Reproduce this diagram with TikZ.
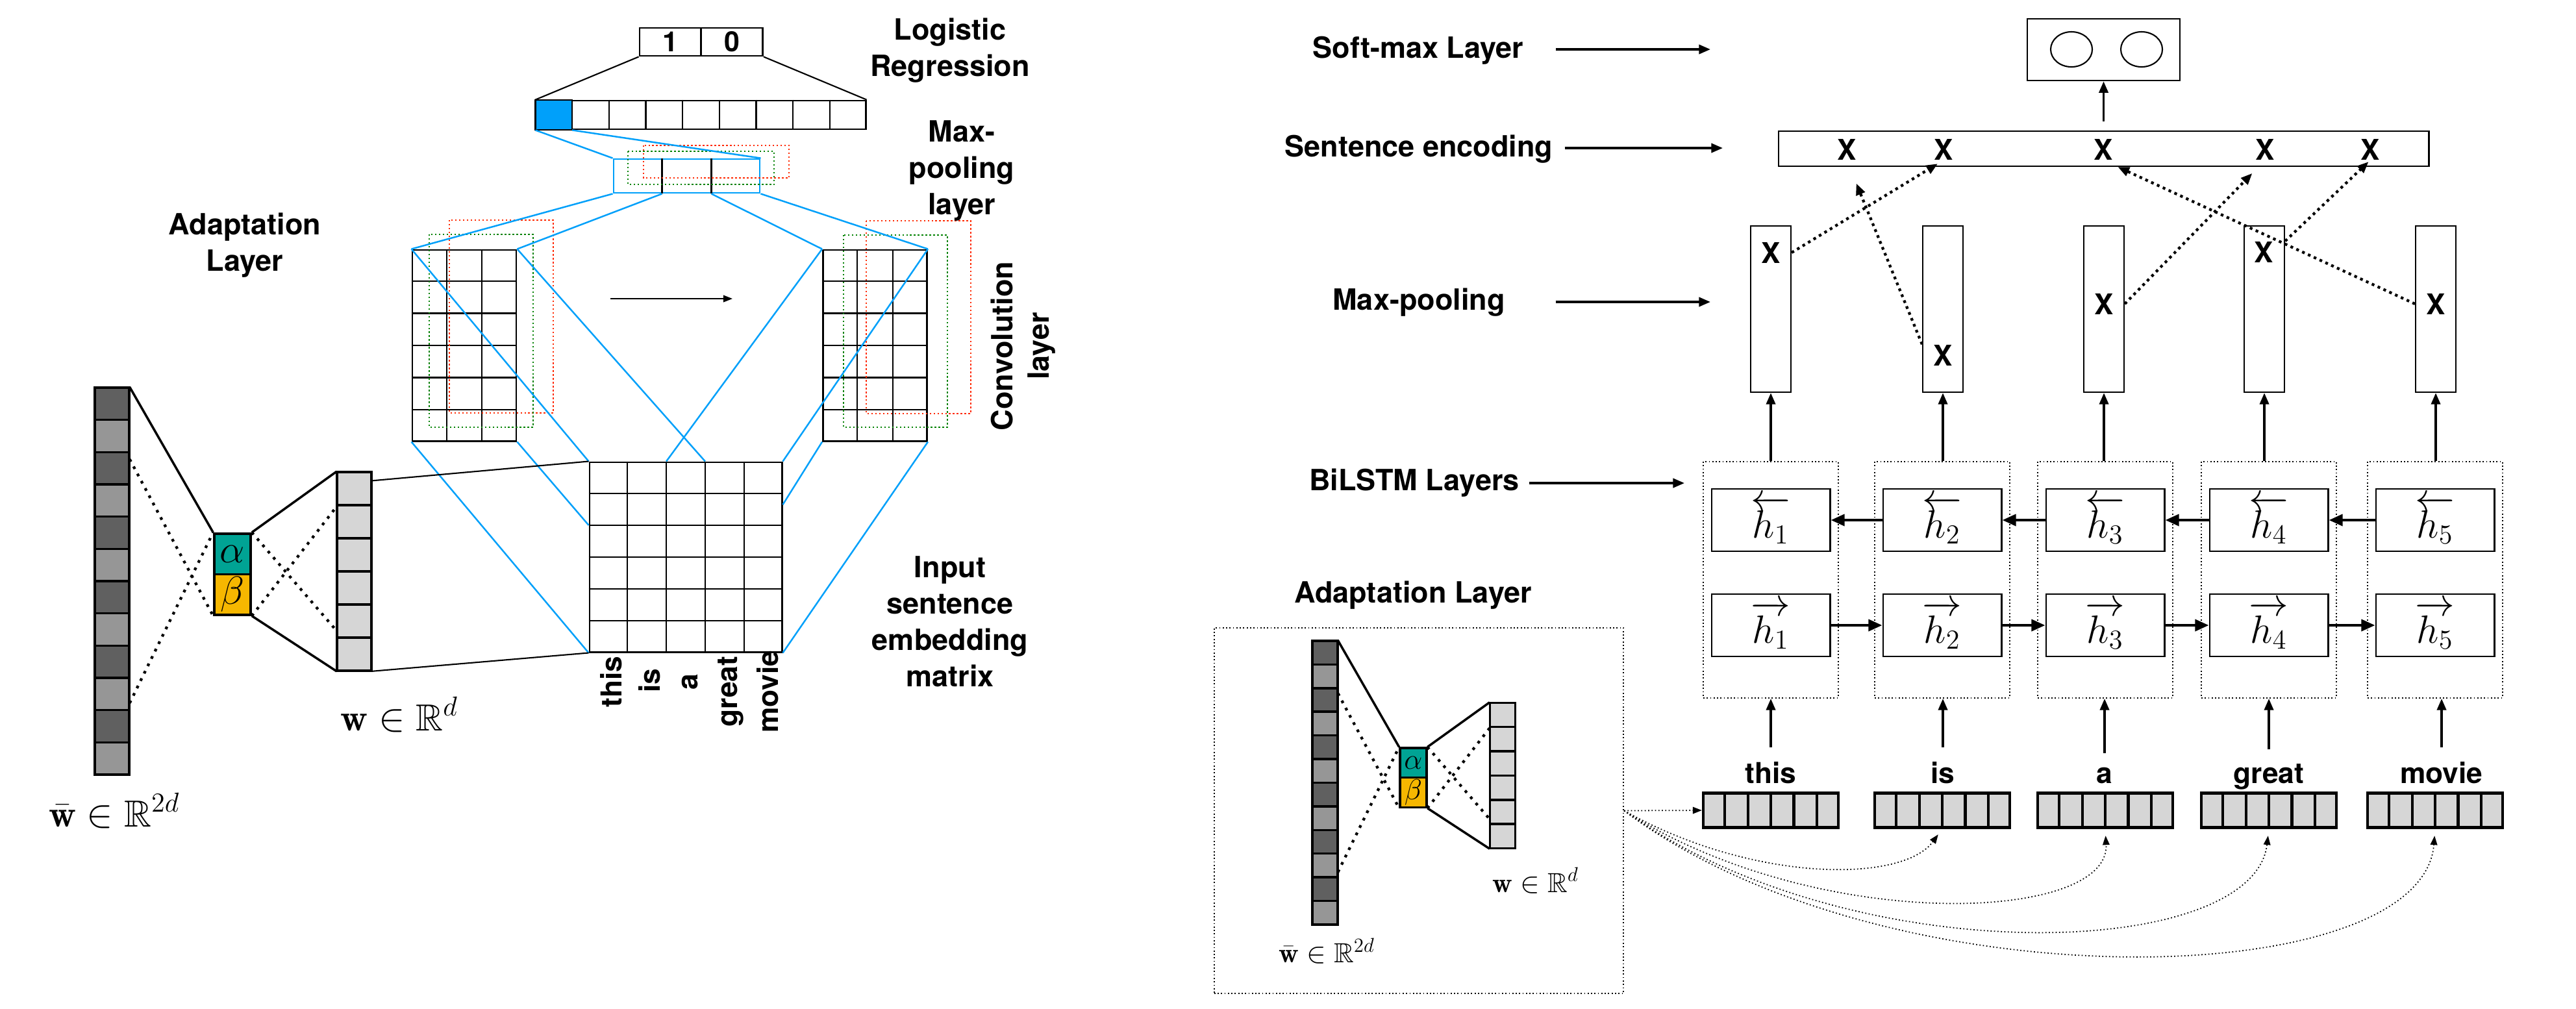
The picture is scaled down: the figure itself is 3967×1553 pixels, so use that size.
\documentclass[tikz,border=0pt]{standalone}
\usepackage{amsmath}
\usepackage{amssymb}
\usepackage{fontspec}
\usepackage{tikz}
\usetikzlibrary{arrows.meta,calc,shapes.geometric}

\newfontfamily\helv{TeX Gyre Heros}

\definecolor{convblue}{RGB}{0,160,250}
\definecolor{filtred}{RGB}{255,40,0}
\definecolor{filtgreen}{RGB}{0,128,0}
\definecolor{alphateal}{RGB}{0,163,148}
\definecolor{betaorange}{RGB}{246,183,0}
\definecolor{celldark}{RGB}{96,96,96}
\definecolor{celllight}{RGB}{150,150,150}
\definecolor{cellpale}{RGB}{214,214,214}

\begin{document}
\begin{tikzpicture}[
  x=0.01cm, y=-0.01cm,
  every node/.style={align=center, inner sep=0pt},
  lbl/.style={font=\helv\bfseries\fontsize{12.8}{15.9}\selectfont},
  wordlbl/.style={font=\helv\bfseries\fontsize{12.6}{16.9}\selectfont},
  xsym/.style={font=\helv\bfseries\fontsize{12.5}{14}\selectfont},
  mathlbl/.style={font=\fontsize{16.5}{20}\selectfont},
  abox/.style={draw, line width=1pt, minimum width=0.56cm, minimum height=0.625cm, font=\fontsize{18}{20}\selectfont},
  cellrule/.style={draw=black, line width=1pt},
  adline/.style={line width=1pt},
  addot/.style={line width=1.2pt, dash pattern=on 1.2pt off 2.4pt},
  gridrule/.style={line width=0.6pt},
  gridbox/.style={draw, line width=0.8pt},
  blueline/.style={convblue, line width=0.7pt},
  filt/.style={densely dotted, line width=0.7pt},
  lstmbox/.style={draw, densely dotted, line width=0.5pt, minimum width=2.08cm, minimum height=3.64cm},
  hcell/.style={draw, line width=0.8pt, minimum width=1.82cm, minimum height=0.96cm, font=\fontsize{17}{20}\selectfont},
  poolcol/.style={draw, line width=0.6pt, minimum width=0.62cm, minimum height=2.56cm},
  vecbox/.style={draw, fill=cellpale, line width=1.2pt, minimum width=2.08cm, minimum height=0.53cm},
  arr/.style={-{Triangle[length=5pt,width=4pt]}, line width=1pt},
  harr/.style={-{Triangle[length=6pt,width=5pt]}, line width=1.3pt},
  dotarr/.style={-{Triangle[length=5pt,width=4pt]}, line width=1.2pt, dash pattern=on 1.2pt off 1.6pt},
  curvearr/.style={-{Triangle[length=4pt,width=3pt]}, line width=0.5pt, densely dotted}
]
\useasboundingbox (0,0) rectangle (3967,1553);

% adaptation layer, large and small copy
\foreach \ox/\oy/\sc/\nm in {146/597/1/big, 2021/987/0.733/small}{
  \begin{scope}[shift={(\ox,\oy)}, scale=\sc, transform shape]
    \foreach \k in {0,...,11}{
      \ifodd\k \def\cellc{celllight}\else\def\cellc{celldark}\fi
      \filldraw[fill=\cellc, cellrule] (0,{\k*49.67}) rectangle ++(53,49.67);
    }
    \node[minimum width=0.53cm, minimum height=5.96cm] (wbar\nm) at (26.5,298) {};
    \foreach \k in {0,...,5}
      \filldraw[fill=cellpale, cellrule] (373,{130+\k*51}) rectangle ++(53,51);
    \node[minimum width=0.53cm, minimum height=3.06cm] (wvec\nm) at (399.5,283) {};
    \node[abox, fill=alphateal] (alpha\nm) at (212,256) {$\alpha$};
    \node[abox, fill=betaorange] (beta\nm) at (212,318.5) {$\beta$};

    \draw[adline] (wbar\nm.north east) -- (alpha\nm.north west);
    \draw[adline] (alpha\nm.north east) -- (wvec\nm.north west);
    \draw[adline] (beta\nm.south east) -- (wvec\nm.south west);
    \draw[addot] ($(wbar\nm.north east)!0.186!(wbar\nm.south east)$) -- (beta\nm.south west);
    \draw[addot] ($(wbar\nm.north east)!0.814!(wbar\nm.south east)$) -- (alpha\nm.north west);
    \draw[addot] (alpha\nm.north east) -- ($(wvec\nm.north west)!0.797!(wvec\nm.south west)$);
    \draw[addot] (beta\nm.south east) -- ($(wvec\nm.north west)!0.176!(wvec\nm.south west)$);

    \node[mathlbl, anchor=base] (wbarlbl\nm) at (30,676) {$\bar{\mathbf{w}}\in\mathbb{R}^{2d}$};
    \node[mathlbl, anchor=base] (wlbl\nm) at (469,528) {$\mathbf{w}\in\mathbb{R}^{d}$};
  \end{scope}
}

% CNN side
\node[gridbox, minimum width=0.95cm, minimum height=0.43cm, font=\helv\bfseries\fontsize{12.2}{14}\selectfont] (out1) at (1032.5,64.5) {1};
\node[gridbox, minimum width=0.95cm, minimum height=0.43cm, font=\helv\bfseries\fontsize{12.2}{14}\selectfont] (out0) at (1127,64.5) {0};
\node[gridbox, minimum width=5.07cm, minimum height=0.44cm] (fc) at (1079.5,177) {};
\node[draw=convblue, line width=0.8pt, minimum width=2.25cm, minimum height=0.52cm] (pool) at (1057.5,271) {};
\node[gridbox, minimum width=1.60cm, minimum height=2.94cm] (convL) at (715,532) {};
\node[gridbox, minimum width=1.60cm, minimum height=2.94cm] (convR) at (1347.5,532) {};
\node[gridbox, minimum width=2.96cm, minimum height=2.92cm] (emb) at (1056,858) {};

\filldraw[fill=convblue, gridrule] (fc.north west) rectangle ($(fc.south west)!1/9!(fc.south east)$);
\foreach \k in {1,...,8}
  \draw[gridrule] ($(fc.north west)!\k/9!(fc.north east)$) -- ($(fc.south west)!\k/9!(fc.south east)$);
\foreach \k in {1,2}
  \draw[gridrule] ($(pool.north west)!\k/3!(pool.north east)$) -- ($(pool.south west)!\k/3!(pool.south east)$);
\foreach \g/\nc/\nr in {convL/3/6, convR/3/6, emb/5/6}{
  \pgfmathtruncatemacro\lc{\nc-1}
  \pgfmathtruncatemacro\lr{\nr-1}
  \foreach \k in {1,...,\lc}
    \draw[gridrule] ($(\g.north west)!\k/\nc!(\g.north east)$) -- ($(\g.south west)!\k/\nc!(\g.south east)$);
  \foreach \k in {1,...,\lr}
    \draw[gridrule] ($(\g.north west)!\k/\nr!(\g.south west)$) -- ($(\g.north east)!\k/\nr!(\g.south east)$);
}

\draw[filt, filtred] (991,224) rectangle (1215,274);
\draw[filt, filtgreen] (967,233) rectangle (1192,284);
\draw[filt, filtred] (692,339) rectangle (852,636);
\draw[filt, filtgreen] (661,361) rectangle (821,658);
\draw[filt, filtred] (1334,340) rectangle (1495,637);
\draw[filt, filtgreen] (1299,362) rectangle (1459,658);

\draw[gridrule] (out1.south west) -- (fc.north west);
\draw[gridrule] (out0.south east) -- (fc.north east);
\draw[blueline] (fc.south west) -- (pool.north west);
\draw[blueline] ($(fc.south west)!1/9!(fc.south east)$) -- (pool.north east);
\draw[blueline] (pool.south west) -- (convL.north west);
\draw[blueline] ($(pool.south west)!1/3!(pool.south east)$) -- (convL.north east);
\draw[blueline] ($(pool.south west)!2/3!(pool.south east)$) -- (convR.north west);
\draw[blueline] (pool.south east) -- (convR.north east);
\draw[blueline] (convL.north west) -- (emb.north west);
\draw[blueline] (convL.north east) -- ($(emb.north west)!3/5!(emb.north east)$);
\draw[blueline] (convR.north west) -- ($(emb.north west)!2/5!(emb.north east)$);
\draw[blueline] (convR.north east) -- (emb.north east);
\draw[blueline] (convL.south west) -- (emb.south west);
\draw[blueline] (convL.south east) -- ($(emb.north west)!2/6!(emb.south west)$);
\draw[blueline] (convR.south west) -- ($(emb.north east)!0.226!(emb.south east)$);
\draw[blueline] (convR.south east) -- (emb.south east);
\draw[gridrule] ($(wvecbig.north east)!0.046!(wvecbig.south east)$) -- (emb.north west);
\draw[gridrule] (wvecbig.south east) -- (emb.south west);

\coordinate (mvA) at (940,460);
\coordinate (mvB) at (1128,460);
\draw[-{Triangle[length=4pt,width=3pt]}, line width=0.6pt] (mvA) -- (mvB);

\node[lbl] (llogreg) at (1463,78) {Logistic\\Regression};
\node[lbl] (lmaxpool) at (1481,263) {Max-\\pooling\\layer};
\node[lbl] (ladaptL) at (377,378) {Adaptation\\Layer};
\node[lbl] (linput) at (1463,957) {Input\\sentence\\embedding\\matrix};
\node[lbl, rotate=90] (lconv) at (1576,533) {Convolution\\layer};

\node[wordlbl, rotate=90, anchor=base] (lw1) at (957,1050) {this};
\node[wordlbl, rotate=90, anchor=base] (lw2) at (1016,1048) {is};
\node[wordlbl, rotate=90, anchor=base] (lw3) at (1074,1050) {a};
\node[wordlbl, rotate=90, anchor=base] (lw4) at (1135,1065) {great};
\node[wordlbl, rotate=90, anchor=base] (lw5) at (1198,1065) {movie};

% BiLSTM side
\node[draw, line width=0.7pt, minimum width=2.35cm, minimum height=0.95cm] (soft) at (3239.5,76.5) {};
\node[ellipse, draw, line width=0.6pt, minimum width=0.64cm, minimum height=0.54cm] (sm1) at (3190,76) {};
\node[ellipse, draw, line width=0.6pt, minimum width=0.64cm, minimum height=0.54cm] (sm2) at (3298,76) {};
\node[draw, line width=0.7pt, minimum width=10.01cm, minimum height=0.54cm] (sent) at (3239.5,229) {};
\foreach \i/\x in {1/2844, 2/2993, 3/3239, 4/3488, 5/3650}
  \node[xsym] (xs\i) at (\x,230) {X};

\foreach \i/\cx/\px/\wx/\w in {1/2727/2727/2727/this, 2/2991/2992/2992/is, 3/3242/3240/3241/a, 4/3494/3487/3494/great, 5/3750/3751/3760/movie}{
  \node[lstmbox] (lstm\i) at (\cx,893) {};
  \node[hcell] (hb\i) at (\cx,801) {$\overleftarrow{h_{\i}}$};
  \node[hcell] (hf\i) at (\cx,963) {$\overrightarrow{h_{\i}}$};
  \node[poolcol] (pool\i) at (\px,476) {};
  \node[vecbox] (vec\i) at (\cx,1248) {};
  \node[wordlbl, anchor=base] (wd\i) at (\wx,1206) {\w};
  \foreach \k in {1,...,5}
    \draw[line width=1.2pt] ($(vec\i.north west)!\k/6!(vec\i.north east)$) -- ($(vec\i.south west)!\k/6!(vec\i.south east)$);
  \draw[arr] (pool\i.south |- lstm\i.north) -- (pool\i.south);
  \draw[arr, shorten <=6pt] (wd\i.north) -- (wd\i.north |- lstm\i.south);
}

\node[xsym] (xm1) at (2727,389) {X};
\node[xsym] (xm2) at (2992,547) {X};
\node[xsym] (xm3) at (3240,468) {X};
\node[xsym] (xm4) at (3486,388) {X};
\node[xsym] (xm5) at (3751,468) {X};

\foreach \i/\j in {1/2, 2/3, 3/4, 4/5}{
  \draw[harr] (hb\j.west) -- (hb\i.east);
  \draw[harr] (hf\i.east) -- (hf\j.west);
}

\draw[arr, shorten <=4pt] (sent.north -| soft.south) -- (soft.south);
\draw[dotarr, shorten >=3pt] (xm1 -| pool1.east) -- (xs2.south);
\draw[dotarr, shorten >=11pt] (xm2.north -| pool2.west) -- (xs1.south);
\draw[dotarr, shorten >=8pt] (xm3 -| pool3.east) -- (xs4.south);
\draw[dotarr, shorten >=1pt] (xm4.north -| pool4.east) -- (xs5.south);
\draw[dotarr, shorten >=7pt] (xm5 -| pool5.west) -- (xs3.south);

\node[lbl] (lsoft) at (2184,78) {Soft-max Layer};
\node[lbl] (lsent) at (2185,230) {Sentence encoding};
\node[lbl] (lmaxp) at (2185,466) {Max-pooling};
\node[lbl] (llstm) at (2178,744) {BiLSTM Layers};
\node[lbl] (ladaptR) at (2176,917) {Adaptation Layer};
\coordinate (csoft) at (2634,76);
\coordinate (csent) at (2653,228);
\coordinate (cmaxp) at (2634,465);
\coordinate (clstm) at (2594,744);
\draw[arr, shorten <=14pt] (lsoft.east |- csoft) -- (csoft);
\draw[arr, shorten <=5pt] (lsent.east |- csent) -- (csent);
\draw[arr, shorten <=22pt] (lmaxp.east |- cmaxp) -- (cmaxp);
\draw[arr, shorten <=4pt] (llstm.east |- clstm) -- (clstm);

\node[draw, densely dotted, line width=0.5pt, minimum width=6.30cm, minimum height=5.63cm] (adbox) at (2185,1248.5) {};
\draw[curvearr] (adbox.east) -- (vec1.west);
\draw[curvearr, shorten >=3pt] (adbox.east) .. controls (2700,1360) and (2930,1360) .. (vec2.south);
\draw[curvearr, shorten >=3pt] (adbox.east) .. controls (2800,1440) and (3250,1420) .. (vec3.south);
\draw[curvearr, shorten >=3pt] (adbox.east) .. controls (2850,1500) and (3470,1480) .. (vec4.south);
\draw[curvearr, shorten >=3pt] (adbox.east) .. controls (2900,1550) and (3730,1530) .. (vec5.south);

\end{tikzpicture}
\end{document}
